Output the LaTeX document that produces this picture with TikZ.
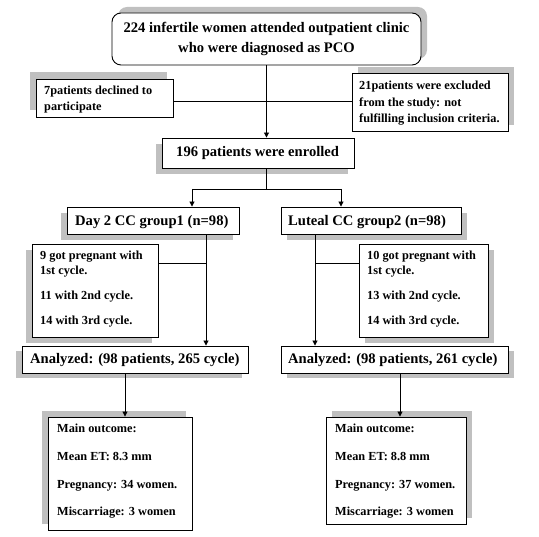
\documentclass[tikz,border=0pt]{standalone}
\usepackage{fontspec}
\setmainfont{Liberation Serif}
\usetikzlibrary{arrows.meta,calc}
\definecolor{shadowgray}{RGB}{192,192,192}
\tikzset{
  box/.style={draw=black, line width=0.9pt, fill=white, inner sep=0pt},
  big/.style={font=\fontsize{14.6}{18}\selectfont\bfseries, inner sep=0pt, anchor=base west},
  small/.style={font=\fontsize{12.3}{16}\selectfont\bfseries, inner sep=0pt, anchor=base west},
  conn/.style={line width=0.9pt, draw=black},
  arr/.style={conn, -{Triangle[length=5pt,width=5pt]}},
}
% name, x1, y1, x2, y2, shadow dx, shadow dy
\newcommand\mybox[7]{%
  \fill[shadowgray] ({#2+#6},{#3+#7}) rectangle ({#4+#6},{#5+#7});
  \node[box, minimum width={#4-#2}, minimum height={#5-#3}] (#1) at ({(#2+#4)/2},{(#3+#5)/2}) {};
}
\begin{document}
\begin{tikzpicture}[x=1pt,y=-1pt]
\useasboundingbox (0,0) rectangle (539,537);
% top rounded box
\fill[shadowgray, rounded corners=9pt] (118,7) rectangle (427,59);
\node[box, rounded corners=9pt, minimum width=309, minimum height=52] (top) at (266.5,39) {};
\node[big, anchor=base] (topa) at (266.5,33) {224 infertile women attended outpatient clinic};
\node[big, anchor=base] (topb) at (266.5,53) {who were diagnosed as PCO};

\mybox{decl}{36}{79}{173}{117}{-6}{-7}
\node[small] (decla) at (44,95) {7patients declined to};
\node[small] (declb) at (44,111) {participate};

\mybox{excl}{352}{73}{508}{131}{6}{-6}
\node[small] (excla) at (359,90) {21patients were excluded};
\node[small] (exclb) at (359,107) {from the study: not};
\node[small] (exclc) at (359,123) {fulfilling inclusion criteria.};

\mybox{enr}{162}{138}{354}{168}{-6}{6}
\node[big] (enrt) at (176,157) {196 patients were enrolled};

\mybox{g1}{67}{207}{239}{234}{-6}{6}
\node[big] (g1t) at (75,226) {Day 2 CC group1 (n=98)};
\mybox{g2}{281}{207}{461}{234}{6}{6}
\node[big] (g2t) at (288,226) {Luteal CC group2 (n=98)};

\mybox{p1}{32}{244}{158}{337}{-6}{6}
\node[small] (p1a) at (40,260) {9 got pregnant with};
\node[small] (p1b) at (40,275) {1st cycle.};
\node[small] (p1c) at (40,300) {11 with 2nd cycle.};
\node[small] (p1d) at (40,325) {14 with 3rd cycle.};
\mybox{p2}{359}{244}{488}{337}{6}{6}
\node[small] (p2a) at (367,260) {10 got pregnant with};
\node[small] (p2b) at (367,275) {1st cycle.};
\node[small] (p2c) at (367,300) {13 with 2nd cycle.};
\node[small] (p2d) at (367,325) {14 with 3rd cycle.};

\mybox{a1}{22}{346}{248}{373}{-6}{5}
\node[big] (a1t) at (30,364) {Analyzed: (98 patients, 265 cycle)};
\mybox{a2}{281}{346}{508}{373}{6}{5}
\node[big] (a2t) at (288,364) {Analyzed: (98 patients, 261 cycle)};

\mybox{o1}{48}{417}{192}{530}{-6}{-6}
\node[small] (o1a) at (57,433) {Main outcome:};
\node[small] (o1b) at (57,461) {Mean ET: 8.3 mm};
\node[small] (o1c) at (57,489) {Pregnancy: 34 women.};
\node[small] (o1d) at (57,516) {Miscarriage: 3 women};
\mybox{o2}{326}{417}{466}{524}{6}{-6}
\node[small] (o2a) at (335,433) {Main outcome:};
\node[small] (o2b) at (335,461) {Mean ET: 8.8 mm};
\node[small] (o2c) at (335,489) {Pregnancy: 37 women.};
\node[small] (o2d) at (335,516) {Miscarriage: 3 women};

% connectors
\coordinate (h0) at (266,101);
\draw[arr] (top.south) -- (top.south |- enr.north);
\draw[conn] (decl.east |- h0) -- (excl.west |- h0);
\coordinate (e0) at (266,189);
\coordinate (eL) at (192,189);
\coordinate (eR) at (341,189);
\draw[conn] (enr.south -| e0) -- (e0);
\draw[conn] (eL) -- (eR);
\draw[arr] (eL) -- (eL |- g1.north);
\draw[arr] (eR) -- (eR |- g2.north);
\coordinate (gL) at (206,263);
\coordinate (gR) at (315,263);
\draw[arr] (g1.south -| gL) -- (gL |- a1.north);
\draw[conn] (p1.east |- gL) -- (gL);
\draw[arr] (g2.south -| gR) -- (gR |- a2.north);
\draw[conn] (p2.west |- gR) -- (gR);
\coordinate (aL) at (125,400);
\coordinate (aR) at (400,400);
\draw[arr] (a1.south -| aL) -- (aL |- o1.north);
\draw[arr] (a2.south -| aR) -- (aR |- o2.north);
\end{tikzpicture}
\end{document}
